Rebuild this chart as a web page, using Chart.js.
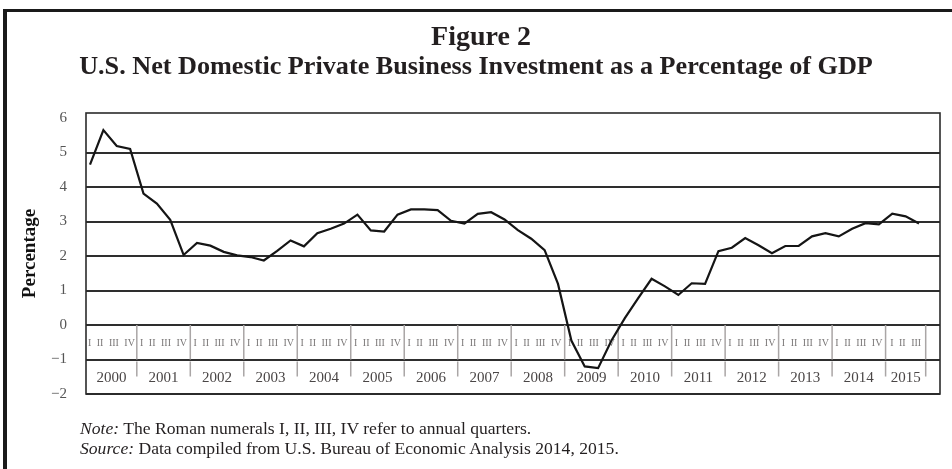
<!DOCTYPE html>
<html>
<head>
<meta charset="utf-8">
<script src="https://cdn.jsdelivr.net/npm/chart.js@4.4.1/dist/chart.umd.min.js"></script>
<style>
  html, body { margin: 0; padding: 0; background: #fff; }
  #page {
    position: relative;
    width: 952px;
    height: 469px;
    overflow: hidden;
    background: #fff;
    font-family: "Liberation Serif", "DejaVu Serif", serif;
    color: #231f20;
  }
  #frameTop { position: absolute; left: 3px; top: 9px; width: 949px; height: 3px; background: #1a1a1a; }
  #frameLeft { position: absolute; left: 3px; top: 9px; width: 4px; height: 460px; background: #1a1a1a; }
  #chart { position: absolute; left: 0; top: 0; }
  .title {
    position: absolute;
    left: 0;
    width: 952px;
    text-align: center;
    font-weight: bold;
    white-space: nowrap;
  }
  #t1 { top: 20px; font-size: 28px; left: 5px; }
  #t2 { top: 51px; font-size: 26.2px; }
  .note {
    position: absolute;
    left: 80px;
    font-size: 17.6px;
    white-space: nowrap;
  }
  #n1 { top: 418px; }
  #n2 { top: 438px; }
</style>
</head>
<body>
<div id="page">
  <div id="frameTop"></div>
  <div id="frameLeft"></div>
  <canvas id="chart" width="952" height="469"></canvas>
  <div class="title" id="t1">Figure 2</div>
  <div class="title" id="t2">U.S. Net Domestic Private Business Investment as a Percentage of GDP</div>
  <div class="note" id="n1"><i>Note:</i> The Roman numerals I, II, III, IV refer to annual quarters.</div>
  <div class="note" id="n2"><i>Source:</i> Data compiled from U.S. Bureau of Economic Analysis 2014, 2015.</div>
</div>

<script>
// years shown in the table under the line, and how many quarters each one has
const years = ["2000", "2001", "2002", "2003", "2004", "2005", "2006", "2007",
  "2008", "2009", "2010", "2011", "2012", "2013", "2014", "2015"];
const quartersPerYear = [4, 4, 4, 4, 4, 4, 4, 4, 4, 4, 4, 4, 4, 4, 4, 3];
const quarterNames = ["I", "II", "III", "IV"];

// net domestic private business investment, % of GDP, 2000 Q1 .. 2015 Q3
const investment = [
  4.65, 5.65, 5.19, 5.10,
  3.81, 3.52, 3.05, 2.03,
  2.38, 2.30, 2.12, 2.02,
  1.97, 1.87, 2.15, 2.45,
  2.28, 2.66, 2.79, 2.94,
  3.20, 2.74, 2.71, 3.20,
  3.35, 3.35, 3.33, 3.02,
  2.94, 3.22, 3.27, 3.06,
  2.75, 2.50, 2.17, 1.19,
  -0.45, -1.20, -1.25, -0.45,
  0.20, 0.78, 1.34, 1.12,
  0.87, 1.21, 1.19, 2.14,
  2.24, 2.52, 2.31, 2.08,
  2.29, 2.29, 2.57, 2.66,
  2.57, 2.79, 2.95, 2.92,
  3.23, 3.15, 2.94
];

const yTicks = [-2, -1, 0, 1, 2, 3, 4, 5, 6];

const SERIF = '"Liberation Serif", "DejaVu Serif", serif';

function minusSign(v) {
  return String(v).replace("-", "\u2212");
}

// frame around the plot
const plotFrame = {
  id: "plotFrame",
  afterDraw(chart) {
    const { ctx, chartArea: a } = chart;
    ctx.save();
    ctx.strokeStyle = "#2b2b2b";
    ctx.lineWidth = 1.6;
    ctx.strokeRect(a.left, a.top, a.right - a.left, a.bottom - a.top);
    ctx.restore();
  }
};

// quarter / year table drawn between 0 and -2 inside the plot
const quarterTable = {
  id: "quarterTable",
  beforeDatasetsDraw(chart) {
    const { ctx, chartArea: a } = chart;
    const xs = chart.scales.x;
    const ys = chart.scales.y;
    const y0 = ys.getPixelForValue(0);
    const y1 = ys.getPixelForValue(-1);
    const y2 = ys.getPixelForValue(-2);

    ctx.save();
    let start = 0;
    years.forEach((yr, k) => {
      const n = quartersPerYear[k];
      const left = Math.max(a.left, xs.getPixelForValue(start - 0.5));
      const right = xs.getPixelForValue(start + n - 0.5);
      const mid = (left + right) / 2;

      // dividers
      ctx.strokeStyle = "#aaa6a6";
      ctx.lineWidth = 1.5;
      ctx.beginPath();
      ctx.moveTo(right, y0);
      ctx.lineTo(right, y1);
      ctx.moveTo(right, y1 + 2);
      ctx.lineTo(right, y1 + 17);
      ctx.stroke();

      // quarter numerals
      ctx.font = "10px " + SERIF;
      ctx.fillStyle = "#7a7777";
      ctx.textBaseline = "middle";
      ctx.textAlign = "left";
      const names = quarterNames.slice(0, n);
      const gap = 5.5;
      const widths = names.map((q) => ctx.measureText(q).width);
      const total = widths.reduce((s, w) => s + w, 0) + gap * (names.length - 1);
      let x = mid - total / 2;
      names.forEach((q, j) => {
        ctx.fillText(q, x, (y0 + y1) / 2 + 1);
        x += widths[j] + gap;
      });

      // year label
      ctx.font = "15px " + SERIF;
      ctx.fillStyle = "#4a4646";
      ctx.textAlign = "center";
      ctx.fillText(yr, mid, (y1 + y2) / 2 + 1);

      start += n;
    });
    ctx.restore();
  }
};

const points = investment.map((v, i) => ({ x: i, y: v }));

new Chart(document.getElementById("chart"), {
  type: "line",
  data: {
    datasets: [
      {
        data: points,
        borderColor: "#151515",
        borderWidth: 2.2,
        pointRadius: 0,
        tension: 0,
        fill: false
      }
    ]
  },
  options: {
    responsive: false,
    animation: false,
    layout: { padding: { left: 0, right: 12, top: 113, bottom: 75 } },
    plugins: {
      legend: { display: false },
      tooltip: { enabled: false }
    },
    scales: {
      x: {
        type: "linear",
        display: false,
        min: -0.3,
        max: 63.57
      },
      y: {
        min: -2,
        max: 6.145,
        afterBuildTicks: (s) => {
          s.ticks = yTicks.map((v) => ({ value: v }));
        },
        afterFit: (s) => {
          s.width = 86;
        },
        border: { display: false },
        grid: {
          drawTicks: false,
          lineWidth: 2,
          color: (c) => (c.tick && c.tick.value === 6 ? "rgba(0,0,0,0)" : "#2e2e2e")
        },
        ticks: {
          padding: 19,
          color: "#555",
          font: { family: SERIF, size: 15 },
          callback: (v) => minusSign(v)
        },
        title: {
          display: true,
          text: "Percentage",
          color: "#111",
          font: { family: SERIF, size: 19, weight: "bold" },
          padding: { top: 19, bottom: 0 }
        }
      }
    }
  },
  plugins: [quarterTable, plotFrame]
});
</script>
</body>
</html>
